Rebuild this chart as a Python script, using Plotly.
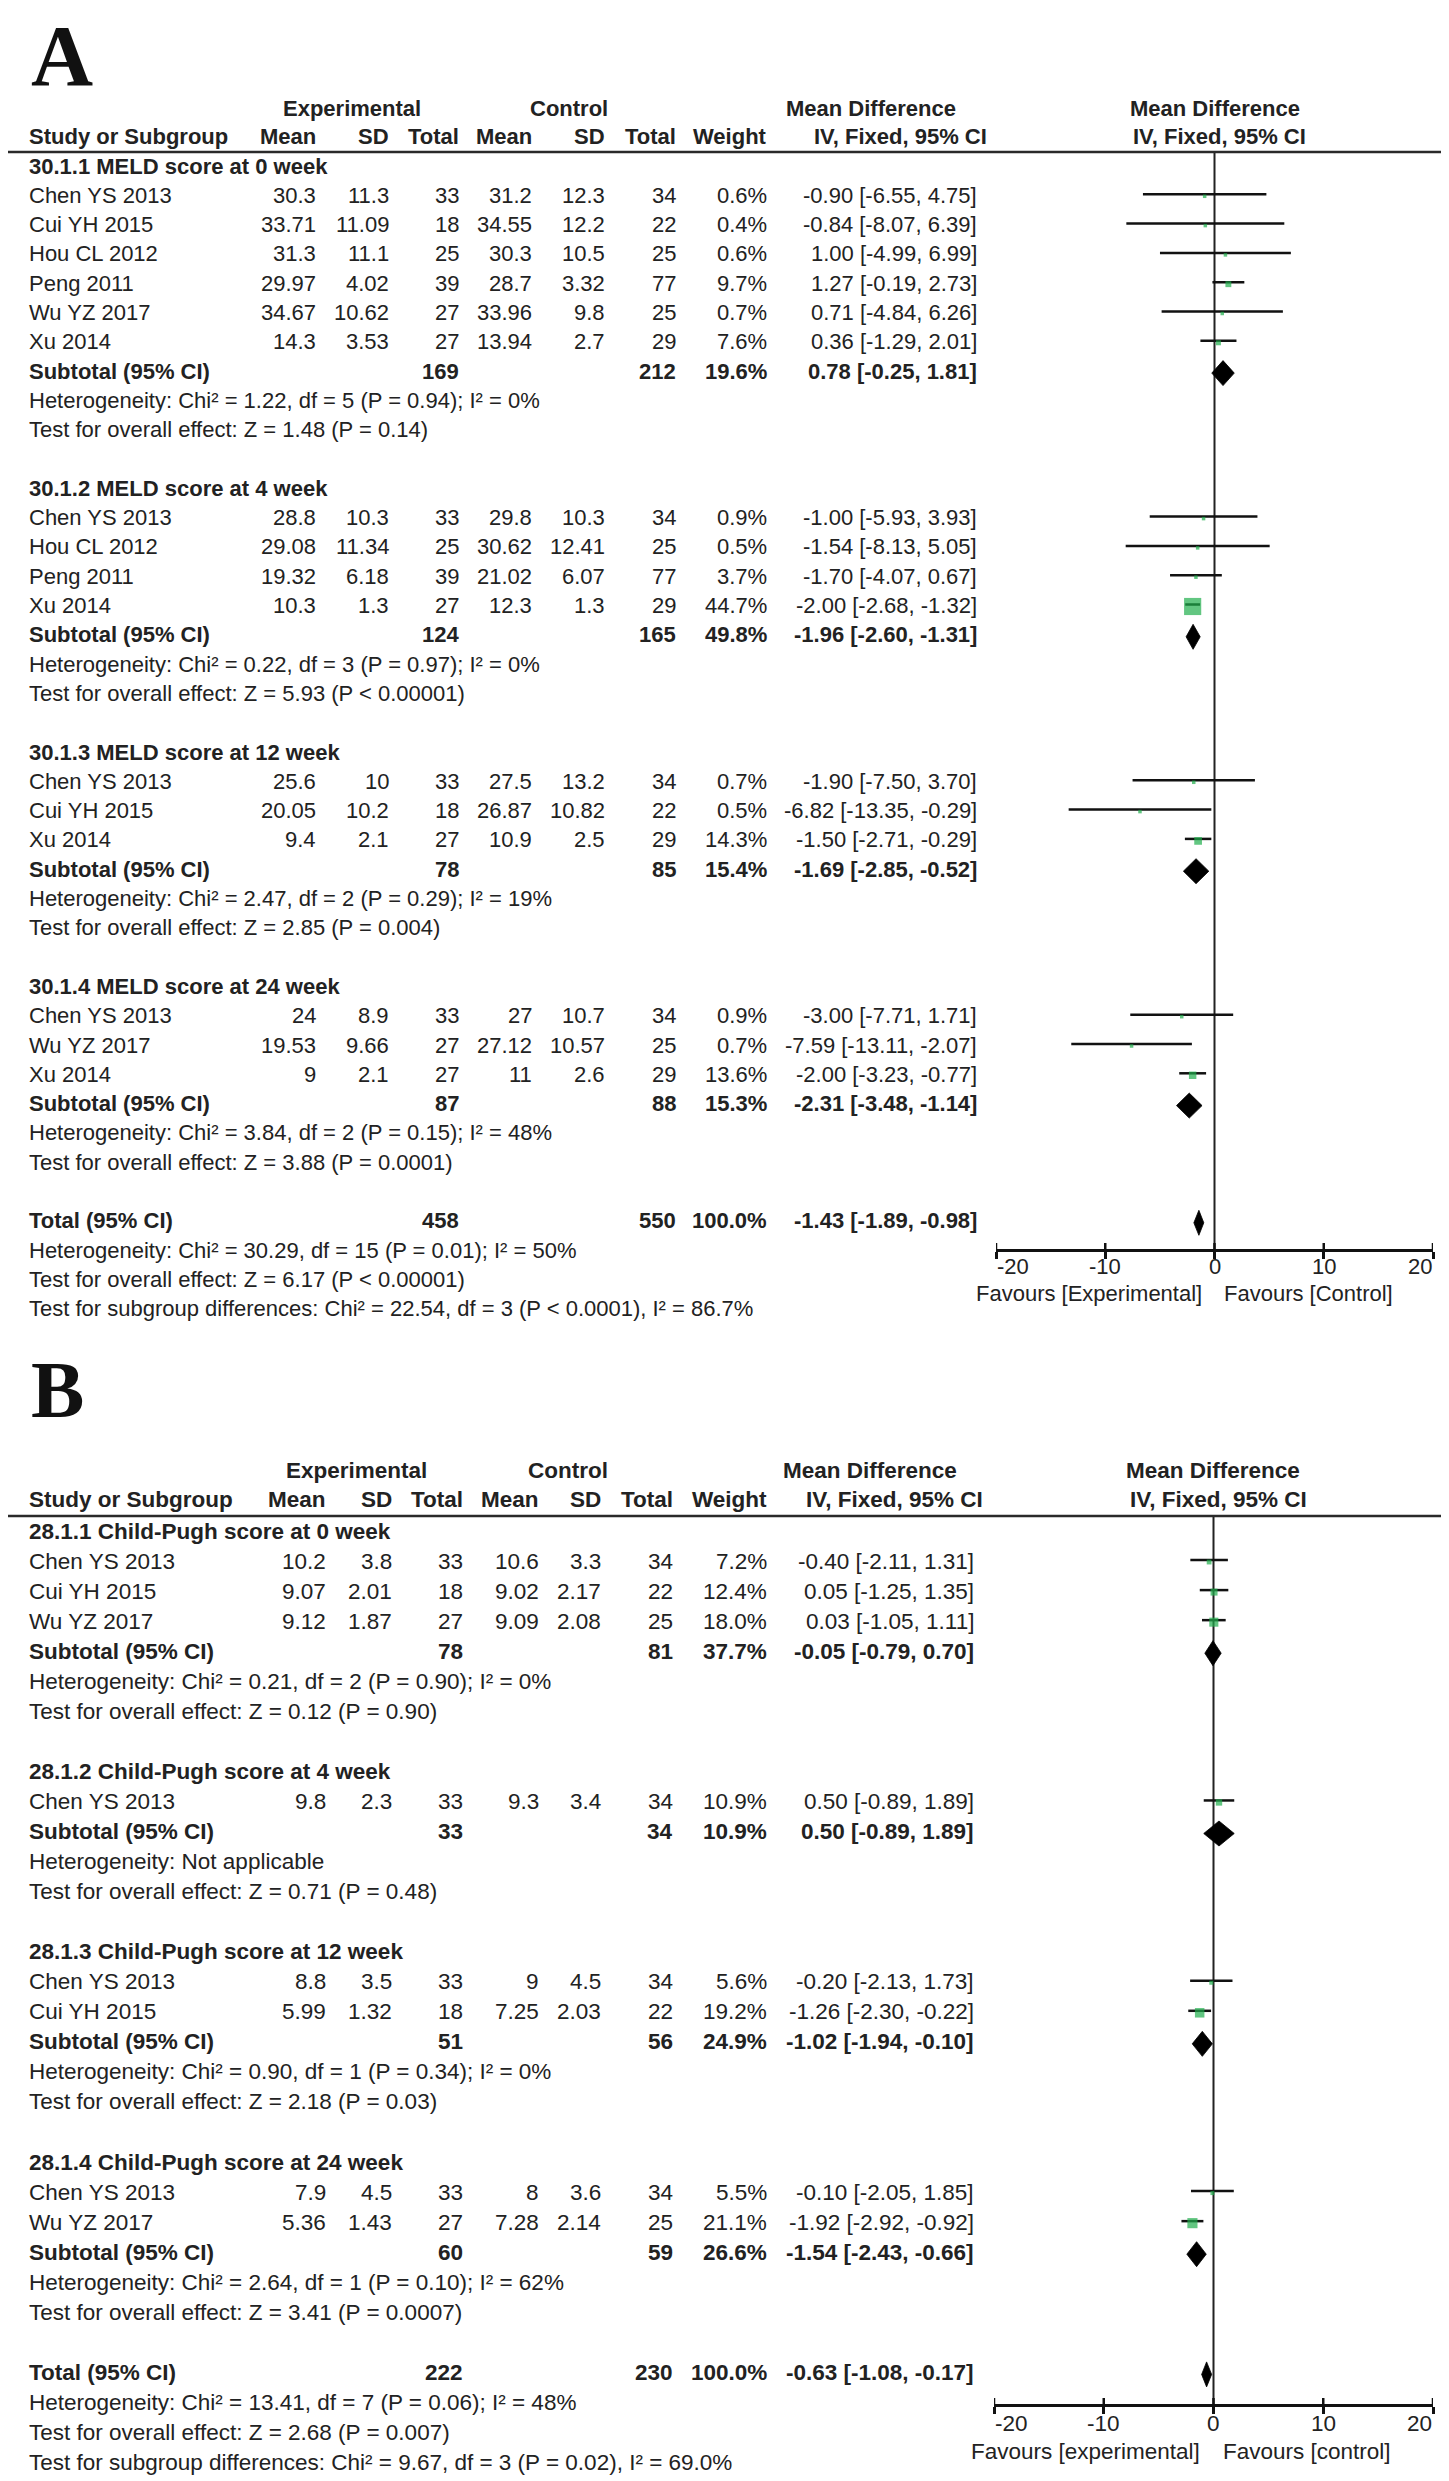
import plotly.graph_objects as go

W, H = 1449, 2481
FONT = "Liberation Sans, Arial, Helvetica, sans-serif"
SERIF = "Liberation Serif, Times New Roman, serif"
TXT = "#222222"
GREEN = "#1fae4b"

# ---------------- Panel A data (MELD score) ----------------
a_groups = ["30.1.1 MELD score at 0 week", "30.1.2 MELD score at 4 week",
            "30.1.3 MELD score at 12 week", "30.1.4 MELD score at 24 week"]
a_group_of = [0, 0, 0, 0, 0, 0, 1, 1, 1, 1, 2, 2, 2, 3, 3, 3]
a_study = ["Chen YS 2013", "Cui YH 2015", "Hou CL 2012", "Peng 2011", "Wu YZ 2017", "Xu 2014",
           "Chen YS 2013", "Hou CL 2012", "Peng 2011", "Xu 2014",
           "Chen YS 2013", "Cui YH 2015", "Xu 2014",
           "Chen YS 2013", "Wu YZ 2017", "Xu 2014"]
a_exp_mean = [30.3, 33.71, 31.3, 29.97, 34.67, 14.3, 28.8, 29.08, 19.32, 10.3, 25.6, 20.05, 9.4, 24, 19.53, 9]
a_exp_sd = [11.3, 11.09, 11.1, 4.02, 10.62, 3.53, 10.3, 11.34, 6.18, 1.3, 10, 10.2, 2.1, 8.9, 9.66, 2.1]
a_exp_n = [33, 18, 25, 39, 27, 27, 33, 25, 39, 27, 33, 18, 27, 33, 27, 27]
a_ctl_mean = [31.2, 34.55, 30.3, 28.7, 33.96, 13.94, 29.8, 30.62, 21.02, 12.3, 27.5, 26.87, 10.9, 27, 27.12, 11]
a_ctl_sd = [12.3, 12.2, 10.5, 3.32, 9.8, 2.7, 10.3, 12.41, 6.07, 1.3, 13.2, 10.82, 2.5, 10.7, 10.57, 2.6]
a_ctl_n = [34, 22, 25, 77, 25, 29, 34, 25, 77, 29, 34, 22, 29, 34, 25, 29]
a_weight = [0.6, 0.4, 0.6, 9.7, 0.7, 7.6, 0.9, 0.5, 3.7, 44.7, 0.7, 0.5, 14.3, 0.9, 0.7, 13.6]
a_md = [-0.90, -0.84, 1.00, 1.27, 0.71, 0.36, -1.00, -1.54, -1.70, -2.00, -1.90, -6.82, -1.50, -3.00, -7.59, -2.00]
a_lo = [-6.55, -8.07, -4.99, -0.19, -4.84, -1.29, -5.93, -8.13, -4.07, -2.68, -7.50, -13.35, -2.71, -7.71, -13.11, -3.23]
a_hi = [4.75, 6.39, 6.99, 2.73, 6.26, 2.01, 3.93, 5.05, 0.67, -1.32, 3.70, -0.29, -0.29, 1.71, -2.07, -0.77]
a_sub_exp_n = [169, 124, 78, 87]
a_sub_ctl_n = [212, 165, 85, 88]
a_sub_weight = [19.6, 49.8, 15.4, 15.3]
a_sub_md = [0.78, -1.96, -1.69, -2.31]
a_sub_lo = [-0.25, -2.60, -2.85, -3.48]
a_sub_hi = [1.81, -1.31, -0.52, -1.14]
a_sub_het = ["Heterogeneity: Chi² = 1.22, df = 5 (P = 0.94); I² = 0%",
             "Heterogeneity: Chi² = 0.22, df = 3 (P = 0.97); I² = 0%",
             "Heterogeneity: Chi² = 2.47, df = 2 (P = 0.29); I² = 19%",
             "Heterogeneity: Chi² = 3.84, df = 2 (P = 0.15); I² = 48%"]
a_sub_test = ["Test for overall effect: Z = 1.48 (P = 0.14)",
              "Test for overall effect: Z = 5.93 (P < 0.00001)",
              "Test for overall effect: Z = 2.85 (P = 0.004)",
              "Test for overall effect: Z = 3.88 (P = 0.0001)"]
a_total = [458, 550, 100.0, -1.43, -1.89, -0.98]
a_total_notes = ["Heterogeneity: Chi² = 30.29, df = 15 (P = 0.01); I² = 50%",
                 "Test for overall effect: Z = 6.17 (P < 0.00001)",
                 "Test for subgroup differences: Chi² = 22.54, df = 3 (P < 0.0001), I² = 86.7%"]
a_favours = ["Favours [Experimental]", "Favours [Control]"]

# ---------------- Panel B data (Child-Pugh score) ----------------
b_groups = ["28.1.1 Child-Pugh score at 0 week", "28.1.2 Child-Pugh score at 4 week",
            "28.1.3 Child-Pugh score at 12 week", "28.1.4 Child-Pugh score at 24 week"]
b_group_of = [0, 0, 0, 1, 2, 2, 3, 3]
b_study = ["Chen YS 2013", "Cui YH 2015", "Wu YZ 2017", "Chen YS 2013",
           "Chen YS 2013", "Cui YH 2015", "Chen YS 2013", "Wu YZ 2017"]
b_exp_mean = [10.2, 9.07, 9.12, 9.8, 8.8, 5.99, 7.9, 5.36]
b_exp_sd = [3.8, 2.01, 1.87, 2.3, 3.5, 1.32, 4.5, 1.43]
b_exp_n = [33, 18, 27, 33, 33, 18, 33, 27]
b_ctl_mean = [10.6, 9.02, 9.09, 9.3, 9, 7.25, 8, 7.28]
b_ctl_sd = [3.3, 2.17, 2.08, 3.4, 4.5, 2.03, 3.6, 2.14]
b_ctl_n = [34, 22, 25, 34, 34, 22, 34, 25]
b_weight = [7.2, 12.4, 18.0, 10.9, 5.6, 19.2, 5.5, 21.1]
b_md = [-0.40, 0.05, 0.03, 0.50, -0.20, -1.26, -0.10, -1.92]
b_lo = [-2.11, -1.25, -1.05, -0.89, -2.13, -2.30, -2.05, -2.92]
b_hi = [1.31, 1.35, 1.11, 1.89, 1.73, -0.22, 1.85, -0.92]
b_sub_exp_n = [78, 33, 51, 60]
b_sub_ctl_n = [81, 34, 56, 59]
b_sub_weight = [37.7, 10.9, 24.9, 26.6]
b_sub_md = [-0.05, 0.50, -1.02, -1.54]
b_sub_lo = [-0.79, -0.89, -1.94, -2.43]
b_sub_hi = [0.70, 1.89, -0.10, -0.66]
b_sub_het = ["Heterogeneity: Chi² = 0.21, df = 2 (P = 0.90); I² = 0%",
             "Heterogeneity: Not applicable",
             "Heterogeneity: Chi² = 0.90, df = 1 (P = 0.34); I² = 0%",
             "Heterogeneity: Chi² = 2.64, df = 1 (P = 0.10); I² = 62%"]
b_sub_test = ["Test for overall effect: Z = 0.12 (P = 0.90)",
              "Test for overall effect: Z = 0.71 (P = 0.48)",
              "Test for overall effect: Z = 2.18 (P = 0.03)",
              "Test for overall effect: Z = 3.41 (P = 0.0007)"]
b_total = [222, 230, 100.0, -0.63, -1.08, -0.17]
b_total_notes = ["Heterogeneity: Chi² = 13.41, df = 7 (P = 0.06); I² = 48%",
                 "Test for overall effect: Z = 2.68 (P = 0.007)",
                 "Test for subgroup differences: Chi² = 9.67, df = 3 (P = 0.02), I² = 69.0%"]
b_favours = ["Favours [experimental]", "Favours [control]"]

axis_ticks = [-20, -10, 0, 10, 20]
axis_range = [-20, 20]

# ---------------- helpers ----------------
annotations, shapes, traces = [], [], []
TEXT_LIFT = 7  # compensates the annotation box offset so glyph centres land on the row


def fnum(v):
    return f"{v:g}"


def fmd(m, lo, hi):
    return f"{m:.2f} [{lo:.2f}, {hi:.2f}]"


def fw(w):
    return f"{w:.1f}%"


def txt(x, y, s, anchor="left", bold=False, size=22, color=TXT, family=FONT, xref="x",
        lift=TEXT_LIFT):
    annotations.append(dict(
        x=x, y=y, xref=xref, yref="y", text=(f"<b>{s}</b>" if bold else s),
        showarrow=False, xanchor=anchor, yanchor="middle", borderpad=0, yshift=lift,
        font=dict(family=family, size=size, color=color)))


def build_panel(P, D):
    fs = P["fs"]
    xa = P["xaxis"]
    c = P["cols"]
    nx = P["name_x"]
    txt(P["letter_x"], P["letter_y"], P["letter"], "left", True, P["letter_size"], "#111111",
        SERIF, lift=0)
    hy1, hy2 = P["hdr_y1"], P["hdr_y2"]
    txt(P["exp_c"], hy1, "Experimental", "center", True, fs)
    txt(P["ctl_c"], hy1, "Control", "center", True, fs)
    txt(P["md_c"], hy1, "Mean Difference", "center", True, fs)
    txt(P["fmd_c"], hy1, "Mean Difference", "center", True, fs)
    txt(nx, hy2, "Study or Subgroup", "left", True, fs)
    for key, lab in zip(["em", "es", "en", "cm", "cs", "cn", "w"],
                        ["Mean", "SD", "Total", "Mean", "SD", "Total", "Weight"]):
        txt(c[key], hy2, lab, "right", True, fs)
    txt(P["iv_c"], hy2, "IV, Fixed, 95% CI", "center", True, fs)
    txt(P["fiv_c"], hy2, "IV, Fixed, 95% CI", "center", True, fs)
    shapes.append(dict(type="line", xref="x", yref="y", x0=0, x1=W,
                       y0=P["line_y"], y1=P["line_y"], line=dict(color="#2a2a2a", width=2.5)))

    def ry(r):
        return P["y0"] + P["pitch"] * r

    ci_x, ci_y, sq_x, sq_y, sq_s = [], [], [], [], []
    diamonds = []
    r = 0
    for g, gname in enumerate(D["groups"]):
        txt(nx, ry(r), gname, "left", True, fs)
        r += 1
        for i, gg in enumerate(D["group_of"]):
            if gg != g:
                continue
            y = ry(r)
            txt(nx, y, D["study"][i], "left", False, fs)
            txt(c["em"], y, fnum(D["em"][i]), "right", False, fs)
            txt(c["es"], y, fnum(D["es"][i]), "right", False, fs)
            txt(c["en"], y, fnum(D["en"][i]), "right", False, fs)
            txt(c["cm"], y, fnum(D["cm"][i]), "right", False, fs)
            txt(c["cs"], y, fnum(D["cs"][i]), "right", False, fs)
            txt(c["cn"], y, fnum(D["cn"][i]), "right", False, fs)
            txt(c["w"], y, fw(D["w"][i]), "right", False, fs)
            txt(c["ci"], y, fmd(D["md"][i], D["lo"][i], D["hi"][i]), "right", False, fs)
            ci_x += [D["lo"][i], D["hi"][i], None]
            ci_y += [y - 8, y - 8, None]
            sq_x.append(D["md"][i])
            sq_y.append(y - 6)
            sq_s.append(max(3.5, 1.2 * D["w"][i] ** 0.7))
            r += 1
        y = ry(r)
        txt(nx, y, "Subtotal (95% CI)", "left", True, fs)
        txt(c["en"], y, str(D["sub_en"][g]), "right", True, fs)
        txt(c["cn"], y, str(D["sub_cn"][g]), "right", True, fs)
        txt(c["w"], y, fw(D["sub_w"][g]), "right", True, fs)
        txt(c["ci"], y, fmd(D["sub_md"][g], D["sub_lo"][g], D["sub_hi"][g]), "right", True, fs)
        diamonds.append((D["sub_md"][g], D["sub_lo"][g], D["sub_hi"][g], y - 5))
        r += 1
        txt(nx, ry(r), D["sub_het"][g], "left", False, fs)
        r += 1
        txt(nx, ry(r), D["sub_test"][g], "left", False, fs)
        r += 2
    y = ry(r)
    tot = D["total"]
    txt(nx, y, "Total (95% CI)", "left", True, fs)
    txt(c["en"], y, str(tot[0]), "right", True, fs)
    txt(c["cn"], y, str(tot[1]), "right", True, fs)
    txt(c["w"], y, fw(tot[2]), "right", True, fs)
    txt(c["ci"], y, fmd(tot[3], tot[4], tot[5]), "right", True, fs)
    diamonds.append((tot[3], tot[4], tot[5], y - 5))
    for k, note in enumerate(D["notes"]):
        txt(nx, ry(r + 1 + k), note, "left", False, fs)

    # zero line
    traces.append(go.Scatter(x=[0, 0], y=[P["line_y"], P["axis_y"]], xaxis=xa, yaxis="y",
                             mode="lines", line=dict(color="#222222", width=2),
                             hoverinfo="skip", showlegend=False))
    # confidence intervals
    traces.append(go.Scatter(x=ci_x, y=ci_y, xaxis=xa, yaxis="y", mode="lines",
                             line=dict(color="#111111", width=2.5), hoverinfo="skip",
                             showlegend=False, cliponaxis=False))
    # study squares
    traces.append(go.Scatter(x=sq_x, y=sq_y, xaxis=xa, yaxis="y", mode="markers",
                             marker=dict(symbol="square", size=sq_s, color=GREEN,
                                         line=dict(width=0)),
                             hoverinfo="skip", showlegend=False, cliponaxis=False))
    # diamonds
    hh = P["dia_h"]
    for md, lo, hi, yc in diamonds:
        traces.append(go.Scatter(x=[lo, md, hi, md, lo], y=[yc, yc - hh, yc, yc + hh, yc],
                                 xaxis=xa, yaxis="y", mode="lines", fill="toself",
                                 fillcolor="#000000", line=dict(color="#000000", width=0.8),
                                 hoverinfo="skip", showlegend=False))
    # upper half of the tick marks (lower half comes from the axis itself)
    tx, ty = [], []
    for t in axis_ticks:
        tx += [t, t, None]
        ty += [P["axis_y"] - 7, P["axis_y"], None]
    traces.append(go.Scatter(x=tx, y=ty, xaxis=xa, yaxis="y", mode="lines",
                             line=dict(color="#111111", width=2.5), hoverinfo="skip",
                             showlegend=False, cliponaxis=False))
    # tick labels
    for t in axis_ticks:
        anc = "left" if t == axis_ticks[0] else ("right" if t == axis_ticks[-1] else "center")
        txt(t, P["tick_y"], f"{t:g}", anc, False, fs, xref=xa)
    txt(P["fav_l"], P["fav_y"], D["favours"][0], "right", False, fs)
    txt(P["fav_r"], P["fav_y"], D["favours"][1], "left", False, fs)


PA = dict(letter="A", letter_x=22, letter_y=48, letter_size=86, fs=22, xaxis="x2",
          hdr_y1=107, hdr_y2=135, line_y=144, y0=165, pitch=29.3, name_x=20,
          cols=dict(em=309, es=382, en=452, cm=525, cs=598, cn=669, w=760, ci=970),
          exp_c=344, ctl_c=561, md_c=863, iv_c=892, fmd_c=1207, fiv_c=1211,
          axis_y=1242, tick_y=1265, fav_y=1292, fav_l=1195, fav_r=1215, dia_h=12.5,
          dom=(988, 1425))
PB = dict(letter="B", letter_x=22, letter_y=1382, letter_size=80, fs=22.5, xaxis="x3",
          hdr_y1=1469, hdr_y2=1498, line_y=1508, y0=1530, pitch=30.05, name_x=20,
          cols=dict(em=319, es=385, en=456, cm=532, cs=594, cn=666, w=760, ci=967),
          exp_c=348, ctl_c=560, md_c=862, iv_c=886, fmd_c=1205, fiv_c=1210,
          axis_y=2397, tick_y=2422, fav_y=2450, fav_l=1193, fav_r=1214, dia_h=12.5,
          dom=(986, 1425))

DA = dict(groups=a_groups, group_of=a_group_of, study=a_study, em=a_exp_mean, es=a_exp_sd,
          en=a_exp_n, cm=a_ctl_mean, cs=a_ctl_sd, cn=a_ctl_n, w=a_weight, md=a_md, lo=a_lo,
          hi=a_hi, sub_en=a_sub_exp_n, sub_cn=a_sub_ctl_n, sub_w=a_sub_weight, sub_md=a_sub_md,
          sub_lo=a_sub_lo, sub_hi=a_sub_hi, sub_het=a_sub_het, sub_test=a_sub_test,
          total=a_total, notes=a_total_notes, favours=a_favours)
DB = dict(groups=b_groups, group_of=b_group_of, study=b_study, em=b_exp_mean, es=b_exp_sd,
          en=b_exp_n, cm=b_ctl_mean, cs=b_ctl_sd, cn=b_ctl_n, w=b_weight, md=b_md, lo=b_lo,
          hi=b_hi, sub_en=b_sub_exp_n, sub_cn=b_sub_ctl_n, sub_w=b_sub_weight, sub_md=b_sub_md,
          sub_lo=b_sub_lo, sub_hi=b_sub_hi, sub_het=b_sub_het, sub_test=b_sub_test,
          total=b_total, notes=b_total_notes, favours=b_favours)

build_panel(PA, DA)
build_panel(PB, DB)

# invisible anchor trace for the page-pixel axes
traces.insert(0, go.Scatter(x=[0], y=[0], xaxis="x", yaxis="y", mode="markers",
                            marker=dict(opacity=0), hoverinfo="skip", showlegend=False))

fig = go.Figure(data=traces)


def forest_axis(P):
    return dict(domain=[P["dom"][0] / W, P["dom"][1] / W], range=axis_range,
                anchor="free", position=1 - P["axis_y"] / H,
                showline=True, linecolor="#111111", linewidth=2.5,
                ticks="outside", ticklen=7, tickwidth=2.5, tickcolor="#111111",
                tickvals=axis_ticks, showticklabels=False, showgrid=False,
                zeroline=False, fixedrange=True)


fig.update_layout(
    width=W, height=H, margin=dict(l=0, r=0, t=0, b=0),
    paper_bgcolor="white", plot_bgcolor="rgba(0,0,0,0)",
    showlegend=False,
    xaxis=dict(domain=[0, 1], range=[0, W], visible=False, fixedrange=True),
    yaxis=dict(domain=[0, 1], range=[H, 0], visible=False, fixedrange=True),
    xaxis2=forest_axis(PA),
    xaxis3=forest_axis(PB),
    annotations=annotations,
    shapes=shapes,
)

fig.write_html("out.html", config={"displayModeBar": False})
